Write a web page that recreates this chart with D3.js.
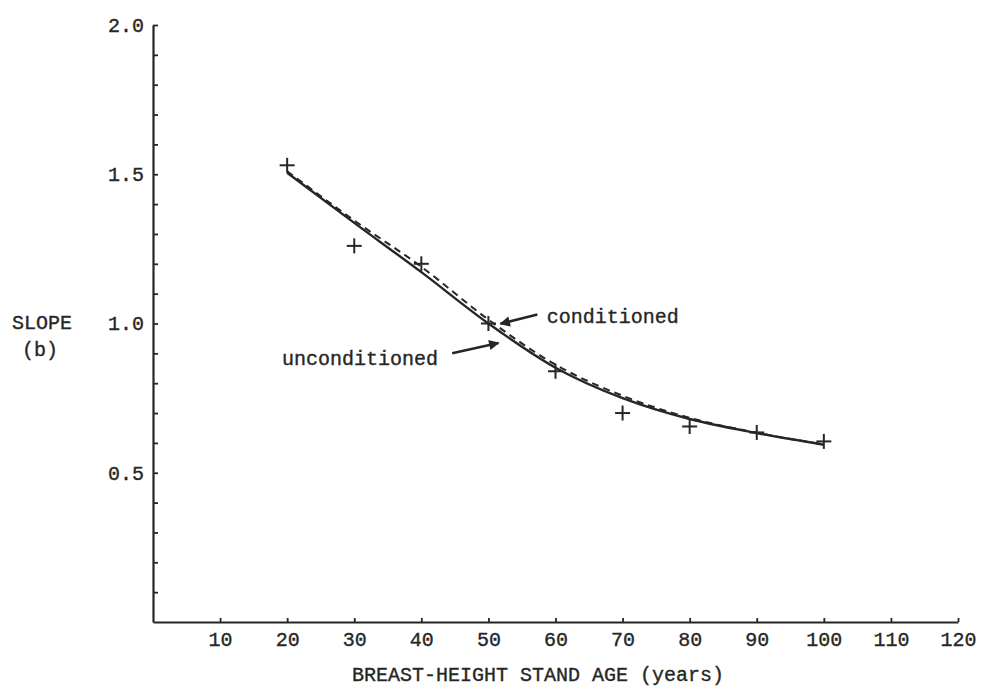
<!DOCTYPE html>
<html>
<head>
<meta charset="utf-8">
<script src="https://cdn.jsdelivr.net/npm/d3@7"></script>
<style>
  html, body { margin: 0; padding: 0; background: #fff; }
  svg { display: block; }
  text { font-family: "Liberation Mono", "DejaVu Sans Mono", monospace; fill: #262626; stroke: #262626; stroke-width: 0.35px; }
</style>
</head>
<body>
<svg id="chart" width="983" height="688"></svg>
<script>
// Stand age (years) at which slope was estimated
const ages = [20, 30, 40, 50, 60, 70, 80, 90, 100];
// Observed slope estimates (plus markers)
const observedSlope = [1.53, 1.26, 1.20, 1.00, 0.84, 0.70, 0.655, 0.635, 0.605];
// Fitted slope, unconditioned model (solid line)
const unconditionedSlope = [1.505, 1.337, 1.172, 1.000, 0.852, 0.750, 0.680, 0.633, 0.594];
// Fitted slope, conditioned model (dashed line)
const conditionedSlope = [1.51, 1.345, 1.19, 1.013, 0.862, 0.758, 0.684, 0.634, 0.595];
// Axis ticks
const xTicks = [10, 20, 30, 40, 50, 60, 70, 80, 90, 100, 110, 120];
const yMinorTicks = [0.1, 0.2, 0.3, 0.4, 0.5, 0.6, 0.7, 0.8, 0.9, 1.0, 1.1, 1.2, 1.3, 1.4, 1.5, 1.6, 1.7, 1.8, 1.9, 2.0];
const yTickLabels = [0.5, 1.0, 1.5, 2.0];

const svg = d3.select("#chart");
const ink = "#262626";

const x = d3.scaleLinear().domain([0, 120]).range([153, 958]);
const y = d3.scaleLinear().domain([0, 2]).range([622, 25]);

// x axis: small upward ticks, labels below
const xAxis = svg.append("g")
  .attr("transform", `translate(0,${y(0)})`)
  .call(d3.axisBottom(x).tickValues(xTicks).tickSizeInner(-4).tickSizeOuter(0).tickPadding(10).tickFormat(d3.format("d")));

// y axis: minor ticks every 0.1 pointing right, labels at every 0.5
const yAxis = svg.append("g")
  .attr("transform", `translate(${x(0)},0)`)
  .call(d3.axisLeft(y).tickValues(yMinorTicks).tickSizeInner(-5).tickSizeOuter(0).tickPadding(9)
    .tickFormat(d => yTickLabels.some(v => Math.abs(v - d) < 1e-9) ? d3.format(".1f")(d) : ""));

[xAxis, yAxis].forEach(g => {
  g.select(".domain").attr("stroke", ink).attr("stroke-width", 2.2);
  g.selectAll(".tick line").attr("stroke", ink).attr("stroke-width", 1.8);
  g.selectAll(".tick text").attr("font-size", 20).attr("fill", ink)
    .attr("font-family", "Liberation Mono, DejaVu Sans Mono, monospace");
});

// Axis titles
svg.append("text").attr("x", 538).attr("y", 681)
  .attr("text-anchor", "middle").attr("font-size", 20)
  .text("BREAST-HEIGHT STAND AGE (years)");
svg.append("text").attr("x", 42).attr("y", 329)
  .attr("text-anchor", "middle").attr("font-size", 20)
  .text("SLOPE");
svg.append("text").attr("x", 40).attr("y", 356)
  .attr("text-anchor", "middle").attr("font-size", 20)
  .text("(b)");

// Fitted curves
const line = d3.line().x((d, i) => x(ages[i])).y(d => y(d)).curve(d3.curveMonotoneX);

svg.append("path").datum(conditionedSlope)
  .attr("d", line).attr("fill", "none").attr("stroke", ink)
  .attr("stroke-width", 2).attr("stroke-dasharray", "7,5");

svg.append("path").datum(unconditionedSlope)
  .attr("d", line).attr("fill", "none").attr("stroke", ink)
  .attr("stroke-width", 2.4);

// Observed values as plus markers
const arm = 7.5;
const pts = svg.append("g").selectAll("g").data(observedSlope).join("g")
  .attr("transform", (d, i) => `translate(${x(ages[i])},${y(d)})`);
pts.append("line").attr("x1", -arm).attr("x2", arm).attr("y1", 0).attr("y2", 0)
  .attr("stroke", ink).attr("stroke-width", 2);
pts.append("line").attr("x1", 0).attr("x2", 0).attr("y1", -arm).attr("y2", arm)
  .attr("stroke", ink).attr("stroke-width", 2);

// Annotation arrows pointing at the two curves
const defs = svg.append("defs");
defs.append("marker").attr("id", "head").attr("viewBox", "0 0 10 10")
  .attr("refX", 9).attr("refY", 5).attr("markerWidth", 5).attr("markerHeight", 4)
  .attr("markerUnits", "strokeWidth").attr("orient", "auto")
  .append("path").attr("d", "M0,0L10,5L0,10Z").attr("fill", ink);

const arrows = [
  { from: [57.3, 1.03], to: [51.8, 0.999], label: "conditioned", at: [58.7, 1.02], anchor: "start" },
  { from: [44.6, 0.90], to: [51.5, 0.935], label: "unconditioned", at: [42.5, 0.878], anchor: "end" }
];
arrows.forEach(a => {
  svg.append("line")
    .attr("x1", x(a.from[0])).attr("y1", y(a.from[1]))
    .attr("x2", x(a.to[0])).attr("y2", y(a.to[1]))
    .attr("stroke", ink).attr("stroke-width", 2.6).attr("marker-end", "url(#head)");
  svg.append("text").attr("x", x(a.at[0])).attr("y", y(a.at[1]))
    .attr("text-anchor", a.anchor).attr("font-size", 20)
    .attr("dominant-baseline", "middle")
    .text(a.label);
});
</script>
</body>
</html>
